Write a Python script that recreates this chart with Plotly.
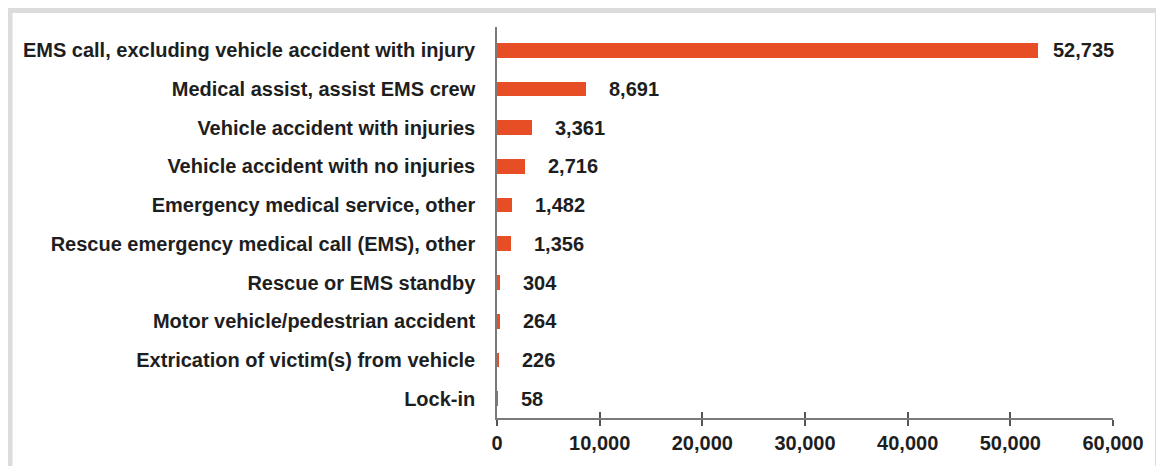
import plotly.graph_objects as go

categories = [
    "EMS call, excluding vehicle accident with injury",
    "Medical assist, assist EMS crew",
    "Vehicle accident with injuries",
    "Vehicle accident with no injuries",
    "Emergency medical service, other",
    "Rescue emergency medical call (EMS), other",
    "Rescue or EMS standby",
    "Motor vehicle/pedestrian accident",
    "Extrication of victim(s) from vehicle",
    "Lock-in",
]
values = [52735, 8691, 3361, 2716, 1482, 1356, 304, 264, 226, 58]
x_ticks = [0, 10000, 20000, 30000, 40000, 50000, 60000]

OFF = 8  # default page body margin
W, H = 1164 - OFF, 466 - OFF
ML, MR, MT, MB = 497 - OFF, 51, 27 - OFF, 48
PW, PH = W - ML - MR, H - MT - MB

BAR = "#E84E26"
TXT = "#1e1e1e"
FONT = "Liberation Sans, Arial, sans-serif"


def px_x(p):
    return (p - OFF - ML) / PW


def px_y(p):
    return (H - MB - (p - OFF)) / PH


fig = go.Figure()
fig.add_trace(go.Bar(
    x=values, y=categories, orientation="h",
    marker=dict(color=BAR, line=dict(width=0)),
    width=0.38, hoverinfo="x+y",
))

vmax = max(values)
for c, v in zip(categories, values):
    fig.add_annotation(
        x=v, y=c, xref="x", yref="y", text=f"{v:,}", showarrow=False,
        xanchor="left", yanchor="middle", xshift=13 if v == vmax else 21,
        font=dict(family=FONT, size=20, color=TXT, weight="bold"),
    )

fig.update_layout(
    width=W, height=H,
    margin=dict(l=ML, r=MR, t=MT, b=MB),
    paper_bgcolor="white", plot_bgcolor="white",
    showlegend=False,
    bargap=0,
    xaxis=dict(
        range=[0, 60000], tickvals=x_ticks, tickformat=",d",
        showgrid=False, zeroline=False,
        showline=True, linecolor="#7a7a7a", linewidth=2,
        ticks="outside", ticklen=6, tickwidth=1.5, tickcolor="#555",
        tickfont=dict(family=FONT, size=20, color=TXT, weight="bold"),
    ),
    xaxis2=dict(
        overlaying="x", matches="x", anchor="y", side="bottom",
        range=[0, 60000], tickvals=x_ticks, showticklabels=False,
        showgrid=False, zeroline=False, showline=False,
        ticks="inside", ticklen=6, tickwidth=1.5, tickcolor="#555",
    ),
    yaxis=dict(
        categoryorder="array", categoryarray=categories, autorange="reversed",
        range=[9.5, -0.5],
        showgrid=False, zeroline=False,
        showline=True, linecolor="#7a7a7a", linewidth=1.5,
        ticks="", ticklabelstandoff=16,
        tickfont=dict(family=FONT, size=20, color=TXT, weight="bold"),
    ),
    shapes=[dict(
        type="rect", xref="paper", yref="paper",
        x0=px_x(10), x1=px_x(1157.5), y0=px_y(490), y1=px_y(10.5),
        line=dict(color="#dcdcdc", width=5), fillcolor="rgba(0,0,0,0)",
        layer="below",
    )],
)
# invisible trace to activate xaxis2 (inside half of the crossing ticks)
fig.add_trace(go.Scatter(x=[0], y=[categories[0]], xaxis="x2", mode="markers",
                         marker=dict(opacity=0), hoverinfo="skip"))

fig.write_html("out.html")
